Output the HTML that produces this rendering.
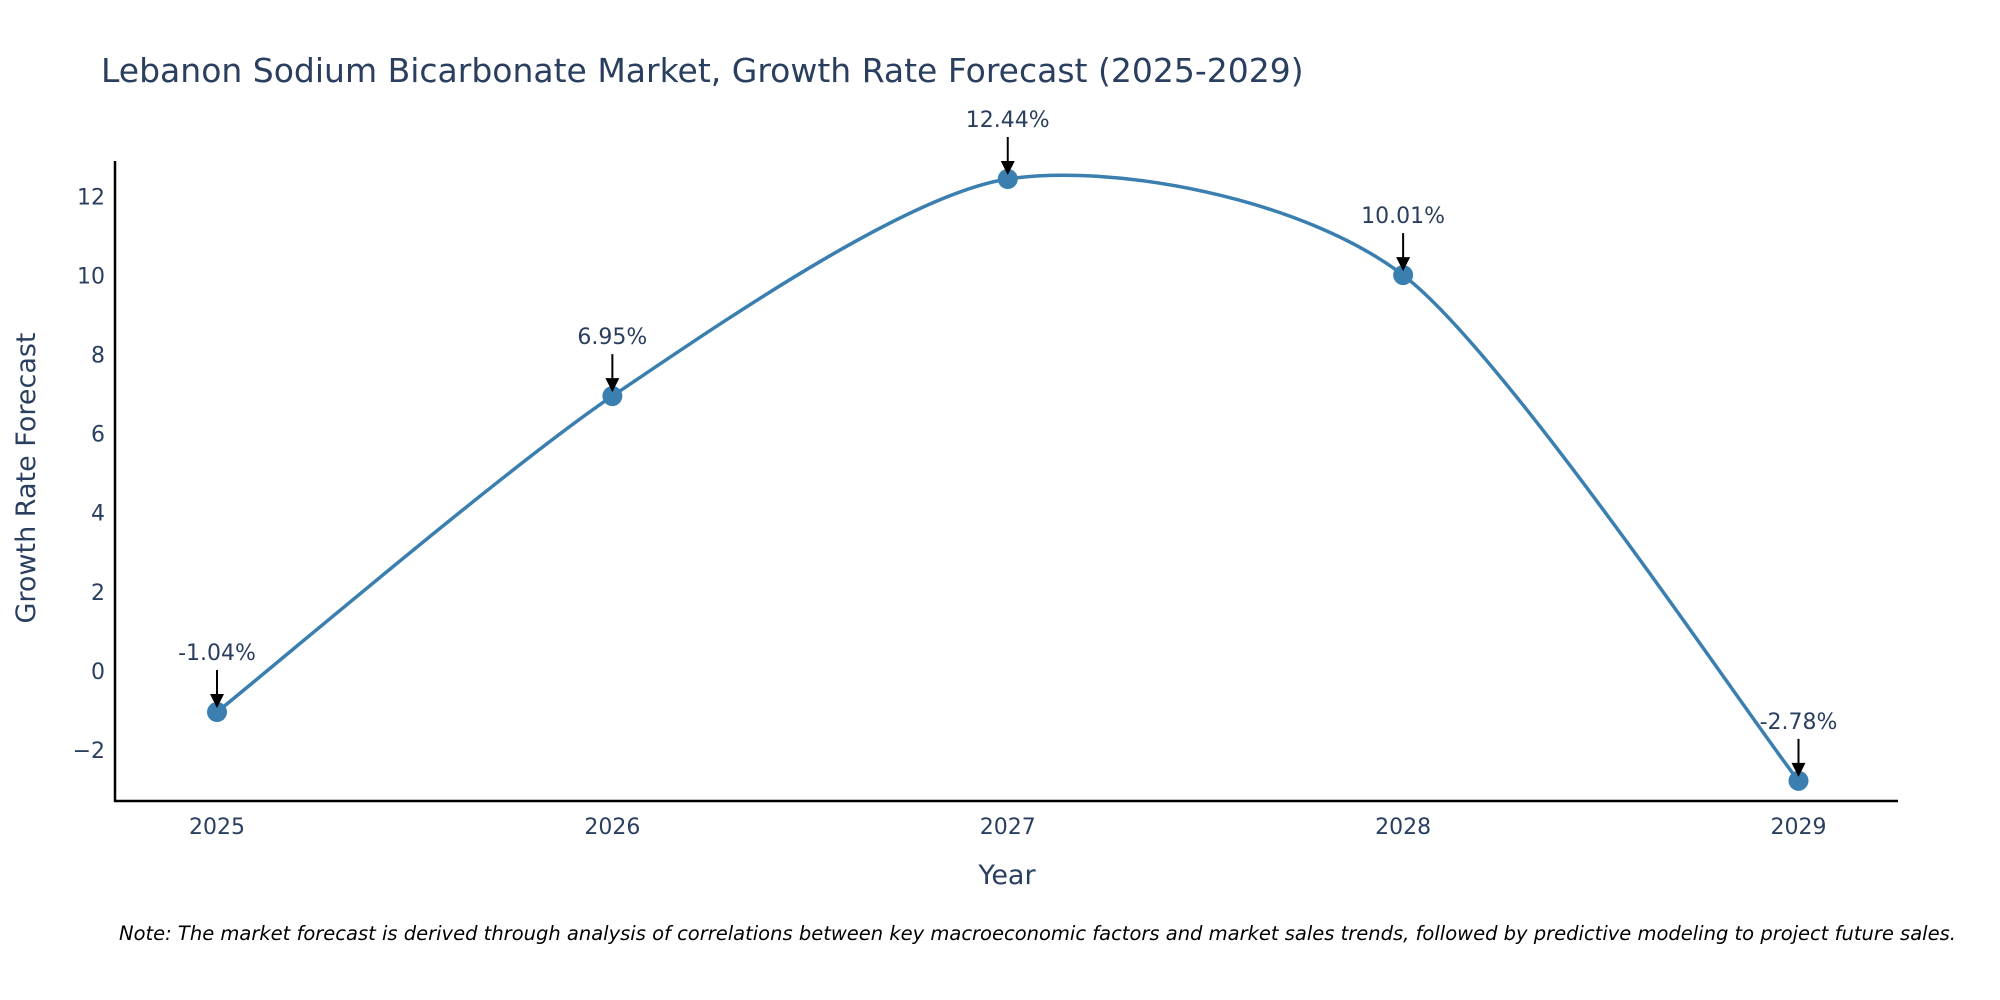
<!DOCTYPE html>
<html><head><meta charset="utf-8"><style>
html,body{margin:0;padding:0;background:#fff;}
svg{display:block;font-family:"DejaVu Sans","Liberation Sans",sans-serif;}
</style></head><body>
<svg id="chart" width="2000" height="1000" viewBox="0 0 2000 1000">
<text x="101" y="82" font-size="33" fill="#2a3f5f">Lebanon Sodium Bicarbonate Market, Growth Rate Forecast (2025-2029)</text>
<g id="yticks"></g>
<g id="xticks"></g>
<line x1="115" y1="161" x2="115" y2="802" stroke="#000" stroke-width="2.5"/>
<line x1="114" y1="801" x2="1898" y2="801" stroke="#000" stroke-width="2.5"/>
<g id="series"></g>
<g id="annots"></g>
<text x="1007" y="884" font-size="27" fill="#2a3f5f" text-anchor="middle">Year</text>
<text x="0" y="0" font-size="27" fill="#2a3f5f" text-anchor="middle" transform="translate(35,478) rotate(-90)">Growth Rate Forecast</text>
<text x="119" y="940" font-size="19.5" font-style="italic" fill="#000">Note: The market forecast is derived through analysis of correlations between key macroeconomic factors and market sales trends, followed by predictive modeling to project future sales.</text>
</svg>
<script>
const years = ["2025","2026","2027","2028","2029"];
const values = [-1.04, 6.95, 12.44, 10.01, -2.78];
const labels = ["-1.04%","6.95%","12.44%","10.01%","-2.78%"];
const yTicks = [-2,0,2,4,6,8,10,12];

const NS="http://www.w3.org/2000/svg";
const x0=217, x1=1798.5;
const xs = i => x0 + (x1-x0)*i/(years.length-1);
const ys = v => 750 - (v+2)*(750-196.4)/14;
function mk(t,a,p){const e=document.createElementNS(NS,t);for(const k in a)e.setAttribute(k,a[k]);p.appendChild(e);return e;}

const yt=document.getElementById('yticks');
yTicks.forEach(v=>{
  const t=mk('text',{x:105,y:ys(v)+8,'font-size':22,fill:'#2a3f5f','text-anchor':'end'},yt);
  
  
  t.textContent=v<0?'\u2212'+Math.abs(v):String(v);
});
const xt=document.getElementById('xticks');
years.forEach((y,i)=>{
  const t=mk('text',{x:xs(i),y:834,'font-size':22,fill:'#2a3f5f','text-anchor':'middle'},xt);
  
  
  t.textContent=y;
});

const pts=values.map((v,i)=>[xs(i),ys(v)]);
let d='M'+pts[0][0]+','+pts[0][1];
for(let i=0;i<pts.length-1;i++){
  const p0=pts[Math.max(i-1,0)],p1=pts[i],p2=pts[i+1],p3=pts[Math.min(i+2,pts.length-1)];
  const k=0.13;
  const c1=[p1[0]+(p2[0]-p0[0])*k,p1[1]+(p2[1]-p0[1])*k];
  const c2=[p2[0]-(p3[0]-p1[0])*k,p2[1]-(p3[1]-p1[1])*k];
  d+=' C'+c1[0]+','+c1[1]+' '+c2[0]+','+c2[1]+' '+p2[0]+','+p2[1];
}
const s=document.getElementById('series');
const line=mk('path',{d:d,fill:'none',stroke:'#3a7fb0','stroke-width':3.5},s);


pts.forEach(p=>{
  const c=mk('circle',{cx:p[0],cy:p[1],r:10,fill:'#3a7fb0'},s);
  
  
});
const an=document.getElementById('annots');
pts.forEach((p,i)=>{
  const l=mk('line',{x1:p[0],y1:p[1]-42,x2:p[0],y2:p[1]-16,stroke:'#000','stroke-width':2},an);
  
  
  const h=mk('polygon',{points:`${p[0]-7},${p[1]-18} ${p[0]+7},${p[1]-18} ${p[0]},${p[1]-4}`,fill:'#000'},an);
  
  
  const t=mk('text',{x:p[0],y:p[1]-52,'font-size':22,fill:'#2a3f5f','text-anchor':'middle'},an);
  
  
  t.textContent=labels[i];
});
</script>
</body></html>
